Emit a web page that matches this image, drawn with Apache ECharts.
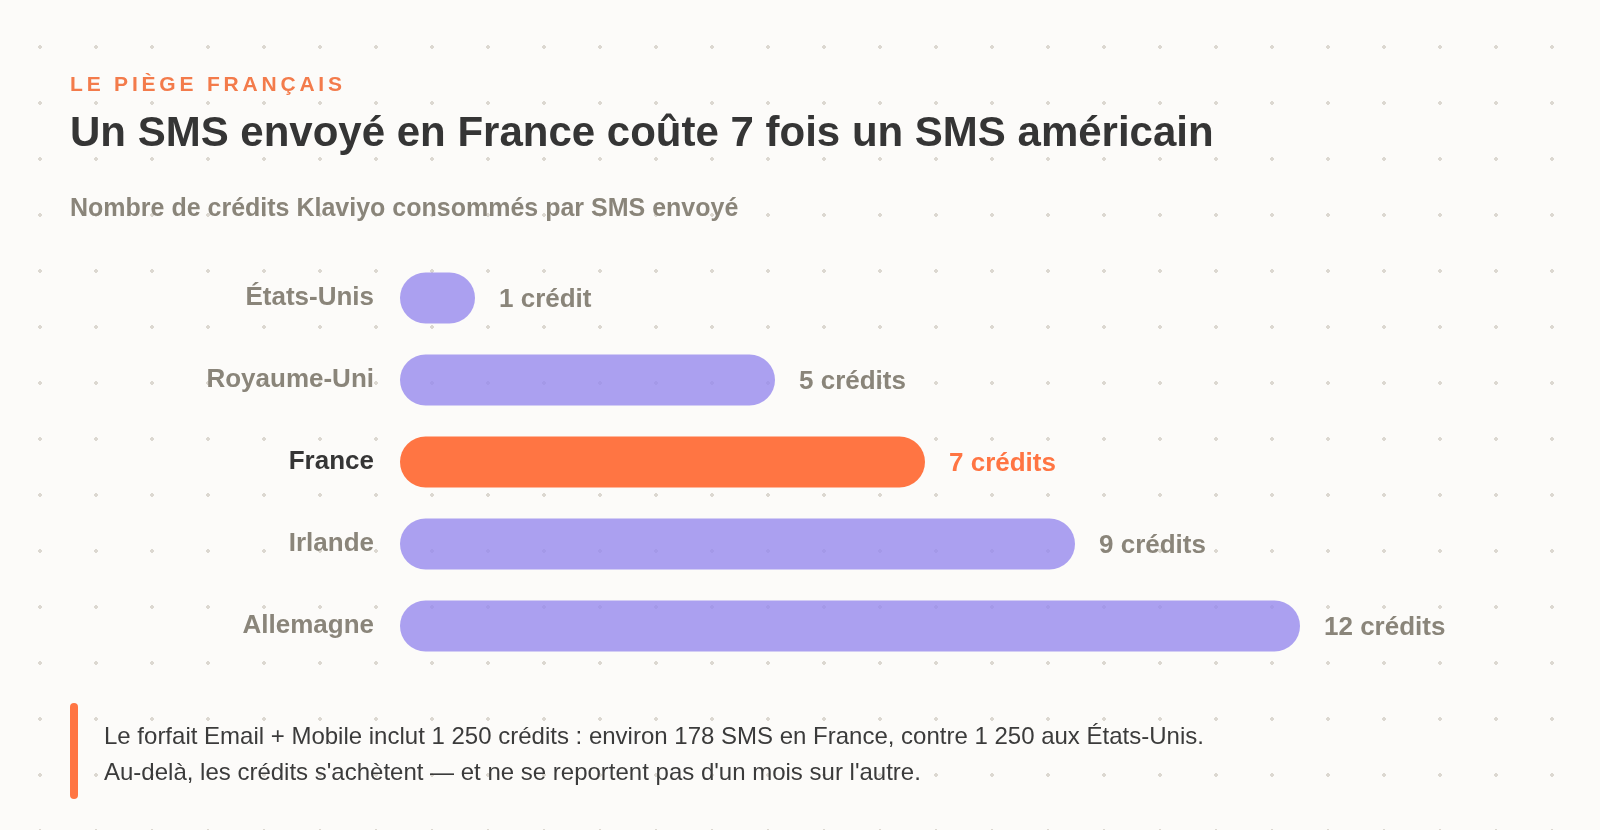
<!DOCTYPE html>
<html lang="fr">
<head>
<meta charset="utf-8">
<title>Le piège français</title>
<script src="https://cdn.jsdelivr.net/npm/echarts@6/dist/echarts.min.js"></script>
<style>
    html, body {
        margin: 0;
        padding: 0;
    }
    body {
        width: 1600px;
        height: 830px;
        background-color: #fcfbf9;
        /* dotted paper background */
        background-image: radial-gradient(circle, #dcd8d1 1.6px, transparent 2px);
        background-size: 56px 56px;
        background-position: 12px 19px;
    }
    #e-sms-bar {
        width: 1600px;
        height: 830px;
    }
</style>
</head>
<body>
<div id="e-sms-bar"></div>
<script>
(function () {
    // Data
    var countries = ["États-Unis", "Royaume-Uni", "France", "Irlande", "Allemagne"];
    var credits = [1, 5, 7, 9, 12];
    var highlight = "France";

    var kicker = "LE PIÈGE FRANÇAIS";
    var headline = "Un SMS envoyé en France coûte 7 fois un SMS américain";
    var subhead = "Nombre de crédits Klaviyo consommés par SMS envoyé";
    var note = [
        "Le forfait Email + Mobile inclut 1 250 crédits : environ 178 SMS en France, contre 1 250 aux États-Unis.",
        "Au-delà, les crédits s'achètent — et ne se reportent pas d'un mois sur l'autre."
    ];

    // Colours
    var ORANGE = "#ff7543";
    var PURPLE = "rgba(150, 138, 238, 0.8)";
    var GREY = "#8a857a";
    var DARK = "#353535";
    var FONT = "'Liberation Sans', Arial, Helvetica, sans-serif";

    function creditLabel(v) {
        return v + (v > 1 ? " crédits" : " crédit");
    }

    // letter-spaced kicker: one rich token per character
    var kickerRich = kicker.split("").map(function (ch) {
        return "{c|" + ch + "}";
    }).join("");

    var barData = credits.map(function (v, i) {
        var isHl = countries[i] == highlight;
        return {
            value: v,
            itemStyle: { color: isHl ? ORANGE : PURPLE },
            label: { color: isHl ? ORANGE : GREY },
        };
    });

    var myBarChart = echarts.init(document.getElementById("e-sms-bar"), null, { renderer: "canvas" });

    var option = {
        backgroundColor: "transparent",
        animation: false,
        textStyle: { fontFamily: FONT },
        title: [
            {
                text: kickerRich,
                left: 70,
                top: 73,
                padding: 0,
                textStyle: {
                    rich: {
                        c: {
                            fontFamily: FONT,
                            fontSize: 21,
                            fontWeight: "bold",
                            color: "#f37b4b",
                            lineHeight: 24,
                            padding: [0, 3.8, 0, 0],
                        },
                    },
                },
            },
            {
                text: headline,
                left: 70,
                top: 109,
                padding: 0,
                textStyle: {
                    fontFamily: FONT,
                    fontSize: 42,
                    fontWeight: "bold",
                    color: DARK,
                    lineHeight: 50,
                },
            },
            {
                text: subhead,
                left: 70,
                top: 194,
                padding: 0,
                textStyle: {
                    fontFamily: FONT,
                    fontSize: 25,
                    fontWeight: "bold",
                    color: GREY,
                    lineHeight: 30,
                },
            },
            {
                text: note.join("\n"),
                left: 104,
                top: 719,
                padding: 0,
                textStyle: {
                    fontFamily: FONT,
                    fontSize: 24,
                    fontWeight: "normal",
                    color: "#3b3b3b",
                    lineHeight: 36,
                },
            },
        ],
        // orange accent next to the note
        graphic: [
            {
                type: "rect",
                left: 70,
                top: 703,
                shape: { width: 8, height: 96, r: 4 },
                style: { fill: ORANGE },
            },
        ],
        grid: {
            left: 400,
            top: 257,
            width: 900,
            height: 410,
            containLabel: false,
        },
        xAxis: {
            type: "value",
            min: 0,
            max: 12,
            show: false,
        },
        yAxis: {
            type: "category",
            inverse: true,
            data: countries,
            axisLine: { show: false },
            axisTick: { show: false },
            splitLine: { show: false },
            axisLabel: {
                margin: 26,
                formatter: function (v) {
                    return v == highlight ? "{hl|" + v + "}" : "{base|" + v + "}";
                },
                rich: {
                    base: { fontFamily: FONT, fontSize: 26, fontWeight: "bold", color: GREY },
                    hl: { fontFamily: FONT, fontSize: 26, fontWeight: "bold", color: DARK },
                },
            },
        },
        series: [
            {
                type: "bar",
                data: barData,
                barWidth: 51,
                itemStyle: { borderRadius: 25.5 },
                label: {
                    show: true,
                    position: "right",
                    distance: 24,
                    offset: [0, 2],
                    fontFamily: FONT,
                    fontSize: 26,
                    fontWeight: "bold",
                    formatter: function (p) {
                        return creditLabel(p.value);
                    },
                },
            },
        ],
    };

    myBarChart.setOption(option);

    window.addEventListener("resize", function () {
        if (myBarChart != null && myBarChart != undefined) {
            myBarChart.resize();
        }
    });
})();
</script>
</body>
</html>
